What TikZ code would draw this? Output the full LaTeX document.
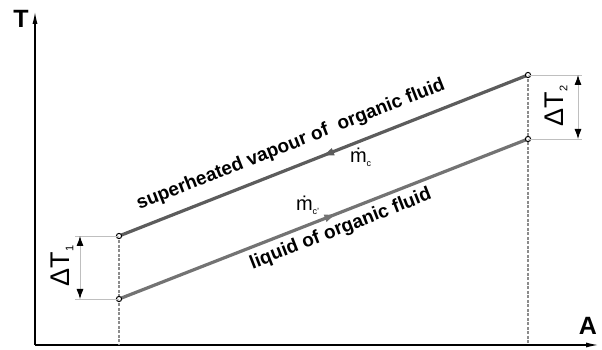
\documentclass[tikz,border=0pt]{standalone}
\usepackage{fontspec}
\setmainfont{Liberation Sans}
\usepackage{tikz}
\usetikzlibrary{arrows.meta,decorations.markings}
\definecolor{vapgray}{gray}{0.36}
\definecolor{liqgray}{gray}{0.45}
\definecolor{dimgray}{gray}{0.75}
\definecolor{dashgray}{gray}{0.55}
\newcommand{\axf}{\fontsize{25}{27}\selectfont\bfseries}
\newcommand{\lblf}{\fontsize{19}{21}\selectfont\bfseries}
\newcommand{\dtf}{\fontsize{27}{29}\selectfont}
\newcommand{\mdf}{\fontsize{20}{22}\selectfont}
\newcommand{\lowidx}[2]{\raisebox{-0.3ex}{\fontsize{#1}{#1}\selectfont #2}}

\begin{document}
\begin{tikzpicture}[x=1pt, y=1pt, every node/.style={inner sep=0pt, outer sep=0pt, text=black}]
\useasboundingbox (0,0) rectangle (602,350);
\tikzset{
  axis/.style={black, line width=1.5pt, -{Latex[length=13pt,width=5pt]}},
  vline/.style={dashgray, line width=1.3pt, dash pattern=on 3pt off 1.5pt},
  vapour/.style={vapgray, line width=3.2pt, postaction={decorate},
    decoration={markings, mark=at position 0.492 with {\arrowreversed{Latex[length=14pt,width=8pt]}}}},
  liquid/.style={liqgray, line width=3.2pt, postaction={decorate},
    decoration={markings, mark=at position 0.536 with {\arrow{Latex[length=14pt,width=8pt]}}}},
  dot/.style={black, line width=1pt, fill=white},
  extline/.style={dimgray, line width=0.8pt},
  dimarrow/.style={dimgray, line width=0.8pt, {Latex[length=10pt,width=7pt,color=black]}-{Latex[length=10pt,width=7pt,color=black]}},
}
% ---- axes
\coordinate (O) at (35,5);
\coordinate (ytop) at (35,339);
\coordinate (xend) at (599,5);
\draw[axis] (O) -- (ytop);
\draw[axis] (O) -- (xend);
\node[font=\axf] (tlab) at (21,331) {T};
\node[font=\axf] (alab) at (588,24) {A};
% ---- state points
\coordinate (a1) at (119,114);
\coordinate (a2) at (528,275);
\coordinate (b1) at (119,51);
\coordinate (b2) at (528,211);
\draw[vline] (a1) -- (a1 |- O);
\draw[vline] (a2) -- (a2 |- O);
% ---- fluid lines
\draw[vapour] (a1) -- node[pos=0.44, sloped, above=13pt, font=\lblf] (vaptxt)
  {superheated vapour of \ organic fluid} (a2);
\draw[liquid] (b1) -- node[pos=0.528, sloped, below=7pt, font=\lblf] (liqtxt)
  {liquid of organic fluid} (b2);
\node[font=\mdf, anchor=base west] (mc) at (350,187) {\.{m}\lowidx{9}{c}};
\node[font=\mdf, anchor=base west] (mcs) at (296,139) {\.{m}\lowidx{9}{c'}};
\foreach \p in {a1,a2,b1,b2}
  \draw[dot] (\p) circle (2.6);
% ---- temperature differences
\coordinate (e1t) at (75,114);
\coordinate (e1b) at (75,51);
\coordinate (e2t) at (582,275);
\coordinate (e2b) at (582,211);
\draw[extline] (e1t) -- (a1);
\draw[extline] (e1b) -- (b1);
\draw[extline] (a2) -- (e2t);
\draw[extline] (b2) -- (e2b);
\draw[dimarrow] ([xshift=5pt]e1b) -- ([xshift=5pt]e1t);
\draw[dimarrow] ([xshift=-4pt]e2b) -- ([xshift=-4pt]e2t);
\node[font=\dtf, rotate=90] (dt1) at (62,84) {ΔT\lowidx{11}{1}};
\node[font=\dtf, rotate=90] (dt2) at (556,244) {ΔT\lowidx{11}{2}};
\end{tikzpicture}
\end{document}
